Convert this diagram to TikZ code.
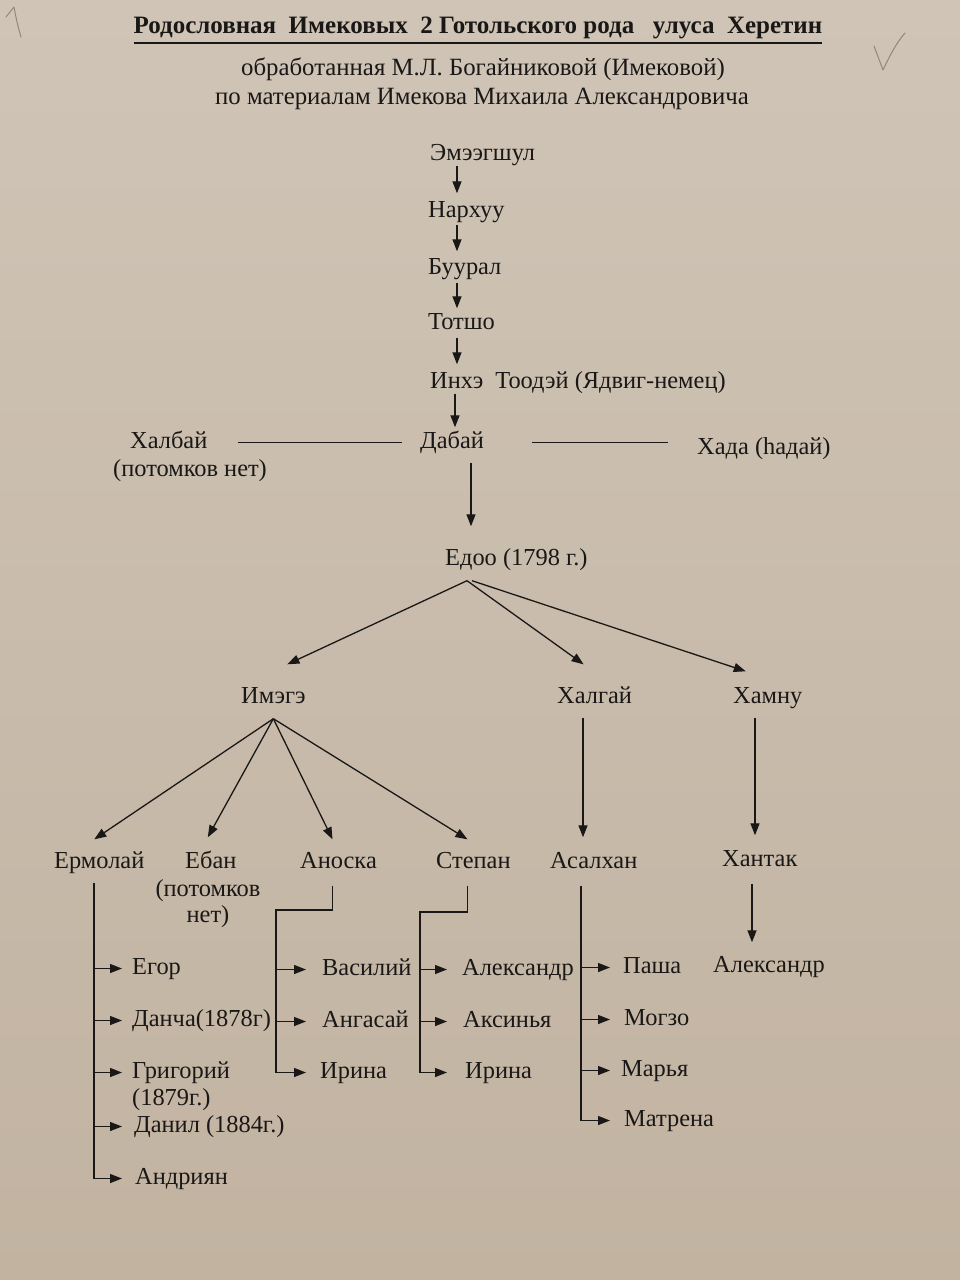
\documentclass[tikz,border=0pt]{standalone}
\usepackage{fontspec}
\setmainfont{Liberation Serif}
\usetikzlibrary{arrows.meta,calc}
\definecolor{ink}{HTML}{1A1816}
\definecolor{paperTop}{HTML}{CFC4B6}
\definecolor{paperBottom}{HTML}{C2B3A1}
\definecolor{pencil}{HTML}{8F8880}
\begin{document}
\begin{tikzpicture}[x=1pt,y=-1pt,
  lbl/.style={anchor=base west, inner sep=0pt, text height=16.5pt, text depth=5.5pt,
              font=\fontsize{24.4}{27}\selectfont, text=ink},
  ln/.style={draw=ink, line width=1.3pt},
  arr/.style={ln, -{Triangle[length=12pt,width=9pt]}},
  pencilmark/.style={draw=pencil, line width=1pt, line cap=round, line join=round}]

% paper
\fill[top color=paperTop, bottom color=paperBottom] (0,0) rectangle (960,1280);
\useasboundingbox (0,0) rectangle (960,1280);

% pencil marks in the margins
\draw[pencilmark] (6,17) -- (14,7) .. controls (16,18) and (18,27) .. (21,37);
\draw[pencilmark] (874,46) -- (883,70) .. controls (890,55) and (897,42) .. (905,33);

% heading
\node[anchor=base, inner sep=0pt, text depth=5pt, text=ink,
      font=\bfseries\fontsize{25}{28}\selectfont] (title) at (478,33)
  {Родословная\ \ Имековых\ \ 2 Готольского рода\ \ \ улуса\ \ Херетин};
\draw[ln, line width=2pt] ([yshift=-5pt]title.south west) -- ([yshift=-5pt]title.south east);
\node[anchor=base, inner sep=0pt, text=ink, font=\fontsize{24.8}{28}\selectfont] (sub1) at (483,75)
  {обработанная М.Л. Богайниковой (Имековой)};
\node[anchor=base, inner sep=0pt, text=ink, font=\fontsize{24.8}{28}\selectfont] (sub2) at (482,104)
  {по материалам Имекова Михаила Александровича};

% direct line of descent
\node[lbl] (emee)   at (430,160) {Эмээгшул};
\node[lbl] (narkh)  at (428,217) {Нархуу};
\node[lbl] (buur)   at (428,274) {Буурал};
\node[lbl] (totsho) at (428,329) {Тотшо};
\node[lbl] (inkhe)  at (430,388) {Инхэ\ \ Тоодэй (Ядвиг-немец)};
\node[lbl] (dabai)  at (420,448) {Дабай};
\node[lbl] (halbai) at (130,448) {Халбай};
\node[lbl] (halbaiNote) at (113,476) {(потомков нет)};
\node[lbl] (hada)   at (697,454) {Хада (һадай)};
\node[lbl] (edoo)   at (445,565) {Едоо (1798 г.)};

\coordinate (chainX) at (457,0);
\draw[arr, shorten >=7pt] (emee.south -| chainX) -- (narkh.north -| chainX);
\draw[arr, shorten <=2pt, shorten >=6pt] (narkh.south -| chainX) -- (buur.north -| chainX);
\draw[arr, shorten <=3pt, shorten >=4pt] (buur.south -| chainX) -- (totsho.north -| chainX);
\draw[arr, shorten <=3pt, shorten >=7pt] (totsho.south -| chainX) -- (inkhe.north -| chainX);
\coordinate (inkheX) at (455,0);
\draw[arr, shorten >=4pt] (inkhe.south -| inkheX) -- (dabai.north -| inkheX);
\coordinate (dabaiX) at (471,0);
\draw[arr, shorten <=9pt, shorten >=22pt] (dabai.south -| dabaiX) -- (edoo.north -| dabaiX);

% brothers of Дабай
\draw[ln, shorten <=30pt, shorten >=18pt] (halbai.east) -- (halbai.east -| dabai.west);
\draw[ln, shorten <=48pt, shorten >=29pt] (dabai.east) -- (dabai.east -| hada.west);

% sons of Едоо
\node[lbl] (imege)  at (241,703) {Имэгэ};
\node[lbl] (halgai) at (557,703) {Халгай};
\node[lbl] (hamnu)  at (733,703) {Хамну};
\coordinate (edooFork) at ([shift={(22pt,-10pt)}]edoo.south west);
\draw[arr] (edooFork) -- ([shift={(14pt,22pt)}]imege.north);
\draw[arr] (edooFork) -- ([shift={(-11pt,22pt)}]halgai.north);
\draw[arr] ([xshift=5pt]edooFork) -- ([shift={(-22pt,15pt)}]hamnu.north);

% next generation
\node[lbl] (ermolai) at (54,868)  {Ермолай};
\node[lbl] (eban)    at (185,868) {Ебан};
\node[anchor=north, inner sep=0pt, align=center, text=ink,
      font=\fontsize{24.4}{26}\selectfont] (ebanNote) at (208,879) {(потомков\\нет)};
\node[lbl] (anoska)  at (300,868) {Аноска};
\node[lbl] (stepan)  at (436,868) {Степан};
\node[lbl] (asalhan) at (550,868) {Асалхан};
\node[lbl] (hantak)  at (722,866) {Хантак};
\node[lbl] (alexH)   at (713,972) {Александр};

\coordinate (imegeFork) at ([yshift=-10pt]imege.south);
\draw[arr] (imegeFork) -- ([shift={(-5pt,12pt)}]ermolai.north);
\draw[arr] (imegeFork) -- ([shift={(-3pt,14pt)}]eban.north);
\draw[arr] (imegeFork) -- ([shift={(-6pt,12pt)}]anoska.north);
\draw[arr] (imegeFork) -- ([shift={(-6pt,12pt)}]stepan.north);

\coordinate (halgaiX) at (583,0);
\draw[arr, shorten <=9pt, shorten >=14pt] (halgai.south -| halgaiX) -- (asalhan.north -| halgaiX);
\coordinate (hamnuX) at (755,0);
\draw[arr, shorten <=9pt, shorten >=14pt] (hamnu.south -| hamnuX) -- (hantak.north -| hamnuX);
\coordinate (hantakX) at (752,0);
\draw[arr, shorten <=12pt, shorten >=13pt] (hantak.south -| hantakX) -- (alexH.north -| hantakX);

% children of Ермолай
\node[lbl] (egor)     at (132,974)  {Егор};
\node[lbl] (dancha)   at (132,1026) {Данча(1878г)};
\node[lbl] (grigorii) at (132,1078) {Григорий};
\node[lbl] (grigYear) at (132,1105) {(1879г.)};
\node[lbl] (danil)    at (134,1132) {Данил (1884г.)};
\node[lbl] (andriyan) at (135,1184) {Андриян};
\coordinate (ermTop) at (94,883);
\draw[arr] (ermTop) |- ([xshift=-13pt]andriyan.west);
\foreach \c/\g in {egor/10, dancha/10, grigorii/10, danil/12}
  \draw[arr] (\c.west -| ermTop) -- ([xshift=-\g pt]\c.west);

% children of Аноска
\node[lbl] (vasilii) at (322,975)  {Василий};
\node[lbl] (angasai) at (322,1027) {Ангасай};
\node[lbl] (irinaA)  at (320,1078) {Ирина};
\coordinate (anKnee) at (276,910);
\draw[arr] ([shift={(-6pt,-12pt)}]anoska.south) |- (anKnee) |- ([xshift=-14pt]irinaA.west);
\draw[arr] (vasilii.west -| anKnee) -- ([xshift=-16pt]vasilii.west);
\draw[arr] (angasai.west -| anKnee) -- ([xshift=-16pt]angasai.west);

% children of Степан
\node[lbl] (alexS)   at (462,975)  {Александр};
\node[lbl] (aksinya) at (463,1027) {Аксинья};
\node[lbl] (irinaS)  at (465,1078) {Ирина};
\coordinate (stKnee) at (420,912);
\draw[arr] ([shift={(-6pt,-12pt)}]stepan.south) |- (stKnee) |- ([xshift=-18pt]irinaS.west);
\draw[arr] (alexS.west -| stKnee) -- ([xshift=-15pt]alexS.west);
\draw[arr] (aksinya.west -| stKnee) -- ([xshift=-16pt]aksinya.west);

% children of Асалхан
\node[lbl] (pasha)   at (623,973)  {Паша};
\node[lbl] (mogzo)   at (624,1025) {Могзо};
\node[lbl] (marya)   at (621,1076) {Марья};
\node[lbl] (matrena) at (624,1126) {Матрена};
\coordinate (asTop) at (581,886);
\draw[arr] (asTop) |- ([xshift=-14pt]matrena.west);
\draw[arr] (pasha.west -| asTop) -- ([xshift=-13pt]pasha.west);
\draw[arr] (mogzo.west -| asTop) -- ([xshift=-14pt]mogzo.west);
\draw[arr] (marya.west -| asTop) -- ([xshift=-11pt]marya.west);
\end{tikzpicture}
\end{document}
